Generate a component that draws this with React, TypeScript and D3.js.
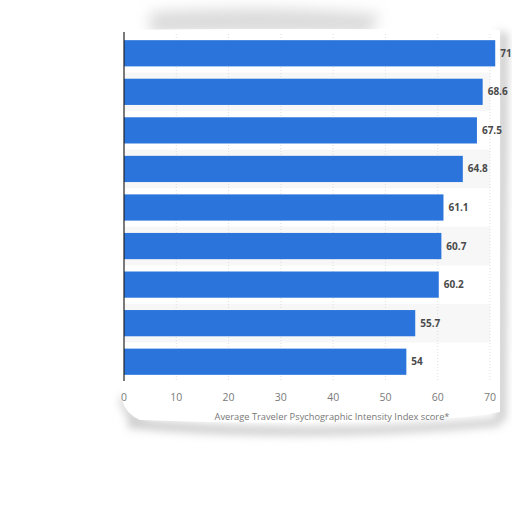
import * as d3 from "d3";

const values = [71, 68.6, 67.5, 64.8, 61.1, 60.7, 60.2, 55.7, 54];
const labels = ["71", "68.6", "67.5", "64.8", "61.1", "60.7", "60.2", "55.7", "54"];
const ticks = [0, 10, 20, 30, 40, 50, 60, 70];
const AXIS_TITLE = "Average Traveler Psychographic Intensity Index score*";

const W = 512;
const H = 512;
const LEFT = 124;
const TOP = 34;
const PLOT_BOTTOM = 381;

export default function App() {
  const x = d3.scaleLinear().domain([0, 70]).range([LEFT, 490]);
  const y = d3
    .scaleBand<number>()
    .domain(d3.range(values.length))
    .range([TOP, PLOT_BOTTOM])
    .paddingInner(0.32)
    .paddingOuter(0.16);
  const step = y.step();

  return (
    <svg
      width={W}
      height={H}
      style={{ position: "absolute", left: 0, top: 0, background: "#fff" }}
      fontFamily="'Open Sans', 'DejaVu Sans', sans-serif"
    >
      <defs>
        <filter id="blur" x="-30%" y="-50%" width="160%" height="200%">
          <feGaussianBlur stdDeviation="7" />
        </filter>
        <filter id="blurS" x="-30%" y="-30%" width="160%" height="160%">
          <feGaussianBlur stdDeviation="4" />
        </filter>
      </defs>

      {/* paper shadow */}
      <g filter="url(#blur)" fill="#c4c4c4" opacity={0.6}>
        <path d="M150,12 Q270,4 380,14 L370,34 L150,34 Z" />
      </g>
      <g filter="url(#blurS)" fill="#bdbdbd" opacity={0.75}>
        <path d="M498,30 L508,34 L506,420 L496,422 Z" />
        <path d="M128,418 Q300,436 500,418 L500,426 Q300,444 128,428 Z" />
        <path d="M124,396 Q128,414 150,420 L140,426 Q120,416 120,396 Z" />
      </g>
      <path
        d="M122,30 Q300,28 500,30 L500,412 Q470,418 440,418 Q300,426 140,420 Q126,414 122,400 Z"
        fill="#fff"
      />

      {/* alternating row bands */}
      {values.map((_, i) =>
        i % 2 === 1 ? (
          <rect
            key={`band-${i}`}
            x={LEFT}
            y={(y(i) ?? 0) - (step - y.bandwidth()) / 2}
            width={490 - LEFT}
            height={step}
            fill="#f7f7f7"
          />
        ) : null,
      )}

      {/* gridlines */}
      {ticks.slice(1).map((t) => (
        <line
          key={`g-${t}`}
          x1={x(t)}
          x2={x(t)}
          y1={TOP}
          y2={PLOT_BOTTOM}
          stroke="#d8d8d8"
          strokeWidth={0.8}
          strokeDasharray="1,2"
        />
      ))}

      {/* bars */}
      {values.map((v, i) => (
        <rect
          key={`bar-${i}`}
          x={x(0)}
          y={y(i)}
          width={x(v) - x(0)}
          height={y.bandwidth()}
          fill="#2a74db"
        />
      ))}

      {/* value labels */}
      {values.map((v, i) => (
        <text
          key={`lab-${i}`}
          x={x(v) + 5}
          y={(y(i) ?? 0) + y.bandwidth() / 2 + 3.5}
          fontSize={10}
          fontWeight={700}
          fill="#4a4a4a"
        >
          {labels[i]}
        </text>
      ))}

      {/* y axis line */}
      <line x1={LEFT} x2={LEFT} y1={TOP - 2} y2={PLOT_BOTTOM} stroke="#222" strokeWidth={1.2} />

      {/* x tick labels */}
      {ticks.map((t) => (
        <text
          key={`t-${t}`}
          x={x(t)}
          y={401}
          textAnchor="middle"
          fontSize={10.5}
          fill="#7a7a7a"
        >
          {t}
        </text>
      ))}

      {/* axis title */}
      <text x={332} y={420} textAnchor="middle" fontSize={9.3} fill="#777">
        {AXIS_TITLE}
      </text>
    </svg>
  );
}
